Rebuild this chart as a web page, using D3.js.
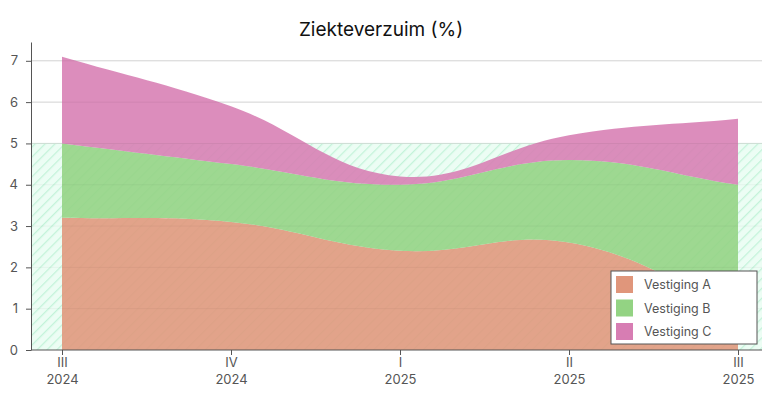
<!DOCTYPE html>
<html>
<head>
<meta charset="utf-8">
<script src="https://cdn.jsdelivr.net/npm/d3@7"></script>
<style>
  body { margin: 0; background: #fff; font-family: Inter, "Noto Sans", sans-serif; }
</style>
</head>
<body>
<div id="chart"></div>
<script>
const quarters = ["III", "IV", "I", "II", "III"];
const years = ["2024", "2024", "2025", "2025", "2025"];
const seriesNames = ["Vestiging A", "Vestiging B", "Vestiging C"];
const vestigingA = [3.2, 3.1, 2.4, 2.6, 1.0];
const vestigingB = [1.8, 1.4, 1.6, 2.0, 3.0];
const vestigingC = [2.1, 1.4, 0.2, 0.6, 1.6];
const yTicks = [0, 1, 2, 3, 4, 5, 6, 7];
const targetMax = 5;
const colors = ["#e0967b", "#93d383", "#d77db3"];

const width = 773, height = 398;
const plotLeft = 31, plotRight = 762, plotTop = 42, plotBottom = 350;

// spline with tension like a smoothed line chart (controls = cur -/+ t * (next - prev))
function SplineCurve(context) { this._context = context; }
SplineCurve.prototype = {
  areaStart() { this._line = 0; },
  areaEnd() { this._line = NaN; },
  lineStart() { this._pts = []; },
  point(x, y) { this._pts.push([+x, +y]); },
  lineEnd() {
    const p = this._pts, n = p.length, ctx = this._context, t = 0.4;
    const ctl = p.map((cur, i) => {
      const prev = p[Math.max(i - 1, 0)], next = p[Math.min(i + 1, n - 1)];
      const d01 = Math.hypot(cur[0] - prev[0], cur[1] - prev[1]);
      const d12 = Math.hypot(next[0] - cur[0], next[1] - cur[1]);
      let s01 = d01 / (d01 + d12), s12 = d12 / (d01 + d12);
      if (isNaN(s01)) s01 = 0;
      if (isNaN(s12)) s12 = 0;
      const fa = t * s01, fb = t * s12;
      return {
        prev: [cur[0] - fa * (next[0] - prev[0]), cur[1] - fa * (next[1] - prev[1])],
        next: [cur[0] + fb * (next[0] - prev[0]), cur[1] + fb * (next[1] - prev[1])]
      };
    });
    if (n) {
      this._line ? ctx.lineTo(p[0][0], p[0][1]) : ctx.moveTo(p[0][0], p[0][1]);
      for (let i = 1; i < n; i++) {
        ctx.bezierCurveTo(ctl[i - 1].next[0], ctl[i - 1].next[1], ctl[i].prev[0], ctl[i].prev[1], p[i][0], p[i][1]);
      }
    }
    if (this._line || (this._line !== 0 && n === 1)) ctx.closePath();
    this._line = 1 - this._line;
  }
};
const splineCurve = ctx => new SplineCurve(ctx);

const svg = d3.select("#chart").append("svg")
  .attr("width", width)
  .attr("height", height);

const rows = quarters.map((q, i) => ({
  i: i,
  "Vestiging A": vestigingA[i],
  "Vestiging B": vestigingB[i],
  "Vestiging C": vestigingC[i]
}));

const x = d3.scalePoint()
  .domain(d3.range(quarters.length))
  .range([62, 738]);

const y = d3.scaleLinear()
  .domain([0, 7.455])
  .range([plotBottom, plotTop]);

// hatch pattern for target band
const defs = svg.append("defs");
const pat = defs.append("pattern")
  .attr("id", "hatch")
  .attr("patternUnits", "userSpaceOnUse")
  .attr("width", 7)
  .attr("height", 7)
  .attr("patternTransform", "rotate(45)");
pat.append("rect").attr("width", 7).attr("height", 7).attr("fill", "#ecfdf4");
pat.append("line")
  .attr("x1", 0).attr("y1", 0).attr("x2", 0).attr("y2", 7)
  .attr("stroke", "#c3f3d9").attr("stroke-width", 2.5);

// grid
svg.selectAll(".grid")
  .data(yTicks.slice(1))
  .join("line")
  .attr("x1", plotLeft)
  .attr("x2", plotRight)
  .attr("y1", d => y(d))
  .attr("y2", d => y(d))
  .attr("stroke", "#dcdcdc")
  .attr("stroke-width", 1);

// target band
svg.append("rect")
  .attr("x", plotLeft)
  .attr("y", y(targetMax))
  .attr("width", plotRight - plotLeft)
  .attr("height", y(0) - y(targetMax))
  .attr("fill", "url(#hatch)");

svg.append("line")
  .attr("x1", plotLeft).attr("x2", plotRight)
  .attr("y1", y(targetMax)).attr("y2", y(targetMax))
  .attr("stroke", "#d6e8dd");

const stack = d3.stack().keys(seriesNames);
const stacked = stack(rows);

const area = d3.area()
  .curve(splineCurve)
  .x(d => x(d.data.i))
  .y0(d => y(d[0]))
  .y1(d => y(d[1]));

svg.selectAll(".area")
  .data(stacked)
  .join("path")
  .attr("d", area)
  .attr("fill", (d, i) => colors[i])
  .attr("fill-opacity", 0.88);

// grid over areas faintly
svg.selectAll(".grid2")
  .data(yTicks.slice(1))
  .join("line")
  .attr("x1", plotLeft)
  .attr("x2", plotRight)
  .attr("y1", d => y(d))
  .attr("y2", d => y(d))
  .attr("stroke", "#000")
  .attr("stroke-opacity", 0.04);

// y axis
const yAxis = svg.append("g")
  .attr("transform", `translate(${plotLeft},0)`)
  .call(d3.axisLeft(y).tickValues(yTicks).tickSize(5).tickSizeOuter(0).tickPadding(8));
yAxis.select(".domain").attr("stroke", "#555");
yAxis.selectAll(".tick line").attr("stroke", "#555");
yAxis.selectAll("text")
  .style("font-family", "Inter, sans-serif")
  .style("font-size", "13px")
  .attr("fill", "#555");

// x axis
const xAxis = svg.append("g")
  .attr("transform", `translate(0,${plotBottom})`)
  .call(d3.axisBottom(x).tickSize(5).tickSizeOuter(0).tickFormat(""));
xAxis.select(".domain").remove();
xAxis.append("line")
  .attr("x1", plotLeft).attr("x2", plotRight)
  .attr("stroke", "#555");
xAxis.selectAll(".tick line").attr("stroke", "#555");
xAxis.selectAll(".tick").each(function(d) {
  const t = d3.select(this).select("text")
    .style("font-family", "Inter, sans-serif")
    .style("font-size", "13px")
    .attr("fill", "#555")
    .attr("y", 8);
  t.append("tspan").attr("x", 0).attr("dy", "0.71em").text(quarters[d]);
  t.append("tspan").attr("x", 0).attr("dy", "1.3em").text(years[d]);
});

// title
svg.append("text")
  .attr("x", 381)
  .attr("y", 36)
  .attr("text-anchor", "middle")
  .style("font-family", "Inter, sans-serif")
  .style("font-size", "19px")
  .attr("fill", "#111")
  .text("Ziekteverzuim (%)");

// legend
const lg = svg.append("g").attr("transform", "translate(611,271)");
lg.append("rect")
  .attr("width", 146)
  .attr("height", 73)
  .attr("fill", "#fff")
  .attr("stroke", "#555")
  .attr("stroke-width", 1);
seriesNames.forEach((name, i) => {
  const row = lg.append("g").attr("transform", `translate(5,${5 + i * 23.5})`);
  row.append("rect")
    .attr("width", 17)
    .attr("height", 17)
    .attr("fill", colors[i]);
  row.append("text")
    .attr("x", 28)
    .attr("y", 13)
    .style("font-family", "Inter, sans-serif")
    .style("font-size", "12.5px")
    .attr("fill", "#555")
    .text(name);
});
</script>
</body>
</html>
